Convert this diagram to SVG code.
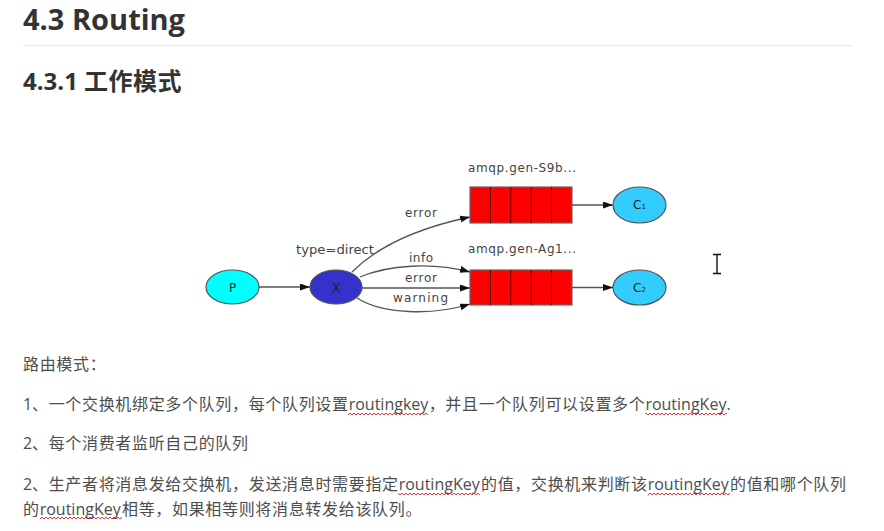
<svg xmlns="http://www.w3.org/2000/svg" width="884" height="531" viewBox="0 0 884 531">
<style>
.h{font-family:"Open Sans","Noto Sans CJK SC",sans-serif;font-weight:bold;fill:#333}
.p{font-family:"Open Sans","Noto Sans CJK SC",sans-serif;font-size:16px;fill:#4d4d4d}
.cj{font-family:"Noto Sans CJK SC","Open Sans",sans-serif;letter-spacing:0.67px}
.lb{font-family:"DejaVu Sans",sans-serif;font-size:12px;fill:#444}
.nt{font-family:"DejaVu Sans",sans-serif;font-size:12px;fill:#222;text-anchor:middle}
.nd{stroke:#555;stroke-width:1.2}
.e{fill:none;stroke:#555;stroke-width:1.3;marker-end:url(#ah)}
.q{fill:#ff0000;stroke:#666;stroke-width:1.2}
.qc{stroke:#5a0000;stroke-width:1}
.sq{fill:url(#wave)}
</style>
<defs>
<marker id="ah" markerUnits="userSpaceOnUse" markerWidth="11" markerHeight="8" refX="10" refY="3.5" orient="auto">
<path d="M0,0 L10,3.5 L0,7 z" fill="#111"/>
</marker>
<pattern id="wave" patternUnits="userSpaceOnUse" width="4" height="4">
<path d="M0,3 L2,1 L4,3" fill="none" stroke="#e62020" stroke-width="0.9"/>
</pattern>
</defs>
<rect width="884" height="531" fill="#fff"/>

<text class="h" x="23" y="30" font-size="29">4.3 Routing</text>
<line x1="23" y1="45.5" x2="853" y2="45.5" stroke="#eeeeee" stroke-width="1.5"/>
<text class="h" x="23" y="90" font-size="24">4.3.1 <tspan letter-spacing="0.5">工作模式</tspan></text>

<g id="connectors">
<path class="e" d="M259,287 L310,287"/>
<path class="e" d="M352,272 C378,246 418,228 470,217"/>
<path class="e" d="M360,277 C388,265 432,262 470,272"/>
<path class="e" d="M362,288 L470,288"/>
<path class="e" d="M357,298 C382,314 432,316 470,304"/>
<path class="e" d="M572,205 L613,205"/>
<path class="e" d="M572,287.5 L613,287.5"/>
<text class="lb" x="296" y="254" textLength="78" lengthAdjust="spacingAndGlyphs">type=direct</text>
<text class="lb" x="405" y="217" textLength="32">error</text>
<text class="lb" x="409" y="262" textLength="24">info</text>
<text class="lb" x="405" y="282" textLength="32">error</text>
<text class="lb" x="393" y="302" textLength="55">warning</text>
</g>

<g id="P">
<ellipse class="nd" cx="232.5" cy="287" rx="26.5" ry="17" fill="#00ffff"/>
<text class="nt" x="232.5" y="291.5">P</text>
</g>
<g id="X">
<ellipse class="nd" cx="336" cy="287" rx="26" ry="17" fill="#3333cc"/>
<text class="nt" x="336" y="291.5">X</text>
</g>
<g id="Q1">
<text class="lb" x="468" y="172" textLength="108">amqp.gen-S9b...</text>
<rect class="q" x="470" y="187" width="102" height="36"/>
<path class="qc" d="M490.4,187V223M510.8,187V223M531.2,187V223M551.6,187V223"/>
</g>
<g id="Q2">
<text class="lb" x="468" y="253" textLength="108">amqp.gen-Ag1...</text>
<rect class="q" x="470" y="270" width="102" height="35"/>
<path class="qc" d="M490.4,270V305M510.8,270V305M531.2,270V305M551.6,270V305"/>
</g>
<g id="C1">
<ellipse class="nd" cx="639.5" cy="205" rx="26.5" ry="18" fill="#33ccff"/>
<text class="nt" x="639.5" y="209">C<tspan font-size="7" dy="0">1</tspan></text>
</g>
<g id="C2">
<ellipse class="nd" cx="639.5" cy="287.5" rx="26.5" ry="17.5" fill="#33ccff"/>
<text class="nt" x="639.5" y="291.5">C<tspan font-size="7">2</tspan></text>
</g>

<path d="M713,254.5H721M717,254.5V273.5M713,273.5H721" stroke="#111" stroke-width="1.4" fill="none"/>

<text class="p" y="370"><tspan class="cj" x="23">路由模式：</tspan></text>
<text class="p" y="410"><tspan x="23">1</tspan><tspan class="cj" x="32">、一个交换机绑定多个队列，</tspan><tspan class="cj" x="248.7">每个队列设置</tspan><tspan x="348.7">routingkey</tspan><tspan class="cj" x="428.7">，并且一个队列可以设置多个</tspan><tspan x="645.4">routingKey.</tspan></text>
<text class="p" y="449"><tspan x="23">2</tspan><tspan class="cj" x="32">、每个消费者监听自己的队列</tspan></text>
<text class="p" y="490"><tspan x="23">2</tspan><tspan class="cj" x="32">、生产者将消息发给交换机，发送消息时需要指定</tspan><tspan x="398.7">routingKey</tspan><tspan class="cj" x="481">的值，交换机来判断该</tspan><tspan x="647.7">routingKey</tspan><tspan class="cj" x="730">的值和哪个队列</tspan></text>
<text class="p" y="515"><tspan class="cj" x="23">的</tspan><tspan x="39.7">routingKey</tspan><tspan class="cj" x="122">相等，如果相等则将消息转发给该队列。</tspan></text>

<rect class="sq" x="348" y="412" width="80" height="4"/>
<rect class="sq" x="645" y="412" width="82" height="4"/>
<rect class="sq" x="398" y="492" width="82" height="4"/>
<rect class="sq" x="648" y="492" width="82" height="4"/>
<rect class="sq" x="40" y="516" width="82" height="4"/>
</svg>
